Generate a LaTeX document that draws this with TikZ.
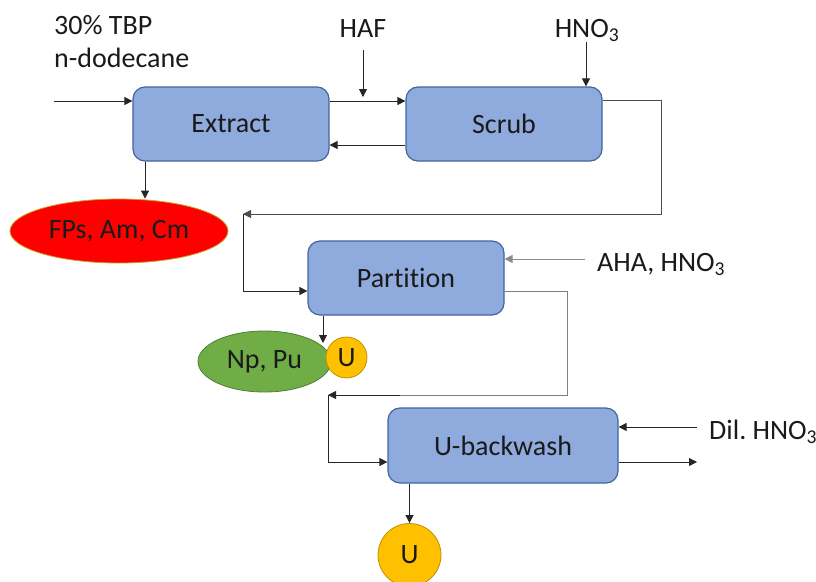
\documentclass[tikz,border=0pt]{standalone}
\usepackage{fontspec}
\setmainfont{Carlito}[Ligatures={NoCommon}]
\usetikzlibrary{arrows.meta,shapes.geometric}
\frenchspacing
\definecolor{boxfill}{HTML}{8FAADC}
\definecolor{boxline}{HTML}{41659F}
\definecolor{txt}{HTML}{1A1A1A}
\definecolor{redfill}{HTML}{FF0000}
\definecolor{redline}{HTML}{C9A227}
\definecolor{greenfill}{HTML}{70AD47}
\definecolor{greenline}{HTML}{507E32}
\definecolor{yfill}{HTML}{FFC000}
\definecolor{yline}{HTML}{BF9000}
\tikzset{
  box/.style={draw=boxline, fill=boxfill, line width=1.2pt, rounded corners=12pt,
    minimum width=196pt, minimum height=74pt, inner sep=0pt, text=txt, font=\fontsize{28}{33}\selectfont},
  lbl/.style={inner sep=0pt, text=txt, font=\fontsize{28}{33}\selectfont},
  conn/.style={line width=0.8pt, draw=black!85},
  arr/.style={conn, -{Triangle[length=8pt,width=8pt]}},
  ell/.style={ellipse, inner sep=0pt, text=txt, font=\fontsize{28}{33}\selectfont},
  ucirc/.style={circle, draw=yline, fill=yfill, line width=0.8pt, inner sep=0pt, text=txt, font=\fontsize{28}{33}\selectfont},
}
\begin{document}
\begin{tikzpicture}[x=1pt,y=-1pt]
\useasboundingbox (0,0) rectangle (816,581);
% boxes
\node[box] (ext) at (231,124) {Extract};
\node[box] (scr) at (504,124) {Scrub};
\node[box] (part) at (406,278) {Partition};
\node[box, minimum width=230pt, minimum height=75pt] (ubw) at (503,445.5) {U-backwash};
% products
\node[ell, draw=redline, fill=redfill, line width=0.8pt, minimum width=218pt, minimum height=64pt] (fp) at (119,231) {FPs, Am, Cm};
\node[ell, draw=greenline, fill=greenfill, line width=0.8pt, minimum width=133pt, minimum height=61pt] (np) at (264.5,361.5) {Np, Pu};
\node[ucirc, minimum size=41pt] (u1) at (346.5,357.5) {U};
\node[ucirc, minimum size=63pt] (u2) at (409.5,555) {U};
% labels
\node[lbl, anchor=base west] (tbp) at (54,34) {30\% TBP};
\node[lbl, anchor=base west] (dod) at (54,67) {n-dodecane};
\node[lbl, anchor=base] (haf) at (363,37) {HAF};
\node[lbl, anchor=base] (hno) at (587,37) {HNO\textsubscript{3}};
\node[lbl, anchor=base west] (aha) at (597,271) {AHA, HNO\textsubscript{3}};
\node[lbl, anchor=base west] (dil) at (709,439) {Dil. HNO\textsubscript{3}};
% coordinates
\coordinate (inS) at (54,101);
\coordinate (hafS) at (363,50);
\coordinate (hafE) at (363,97);
\coordinate (hnoS) at (586,42);
\coordinate (j1) at (243,214);
\coordinate (j2) at (328,395);
\coordinate (ahaS) at (585,259);
\coordinate (dilS) at (697,427);
\coordinate (outE) at (697,462);
\coordinate (npE) at (323,343);
% connectors
\draw[arr] (inS) -- (inS -| ext.west);
\draw[arr] (hafS) -- (hafE);
\draw[arr] (ext.east |- 0,101) -- (scr.west |- 0,101);
\draw[arr] (scr.west |- 0,145) -- (ext.east |- 0,145);
\draw[arr] (ext.south -| 145,0) -- (fp.north -| 145,0);
\draw[arr] (hnoS) -- (scr.north -| 586,0);
\draw[conn, draw=black!70] (scr.east |- 0,100) -- (661,100) -- (661,214) -- (j1);
\draw[arr, draw=black!70] (661,214) -- (j1);
\draw[arr] (j1) |- (part.west |- 0,291);
\draw[arr, draw=black!45] (ahaS) -- (part.east |- ahaS);
\draw[conn, draw=black!50] (part.east |- 0,291) -| (567,395) -- (j2);
\draw[arr] (400,395) -- (j2);
\draw[arr] (part.south -| npE) -- (npE);
\draw[arr] (j2) |- (ubw.west |- 0,462);
\draw[arr] (dilS) -- (ubw.east |- dilS);
\draw[arr] (ubw.east |- outE) -- (outE);
\draw[arr] (ubw.south -| u2) -- (u2.north);
\end{tikzpicture}
\end{document}
